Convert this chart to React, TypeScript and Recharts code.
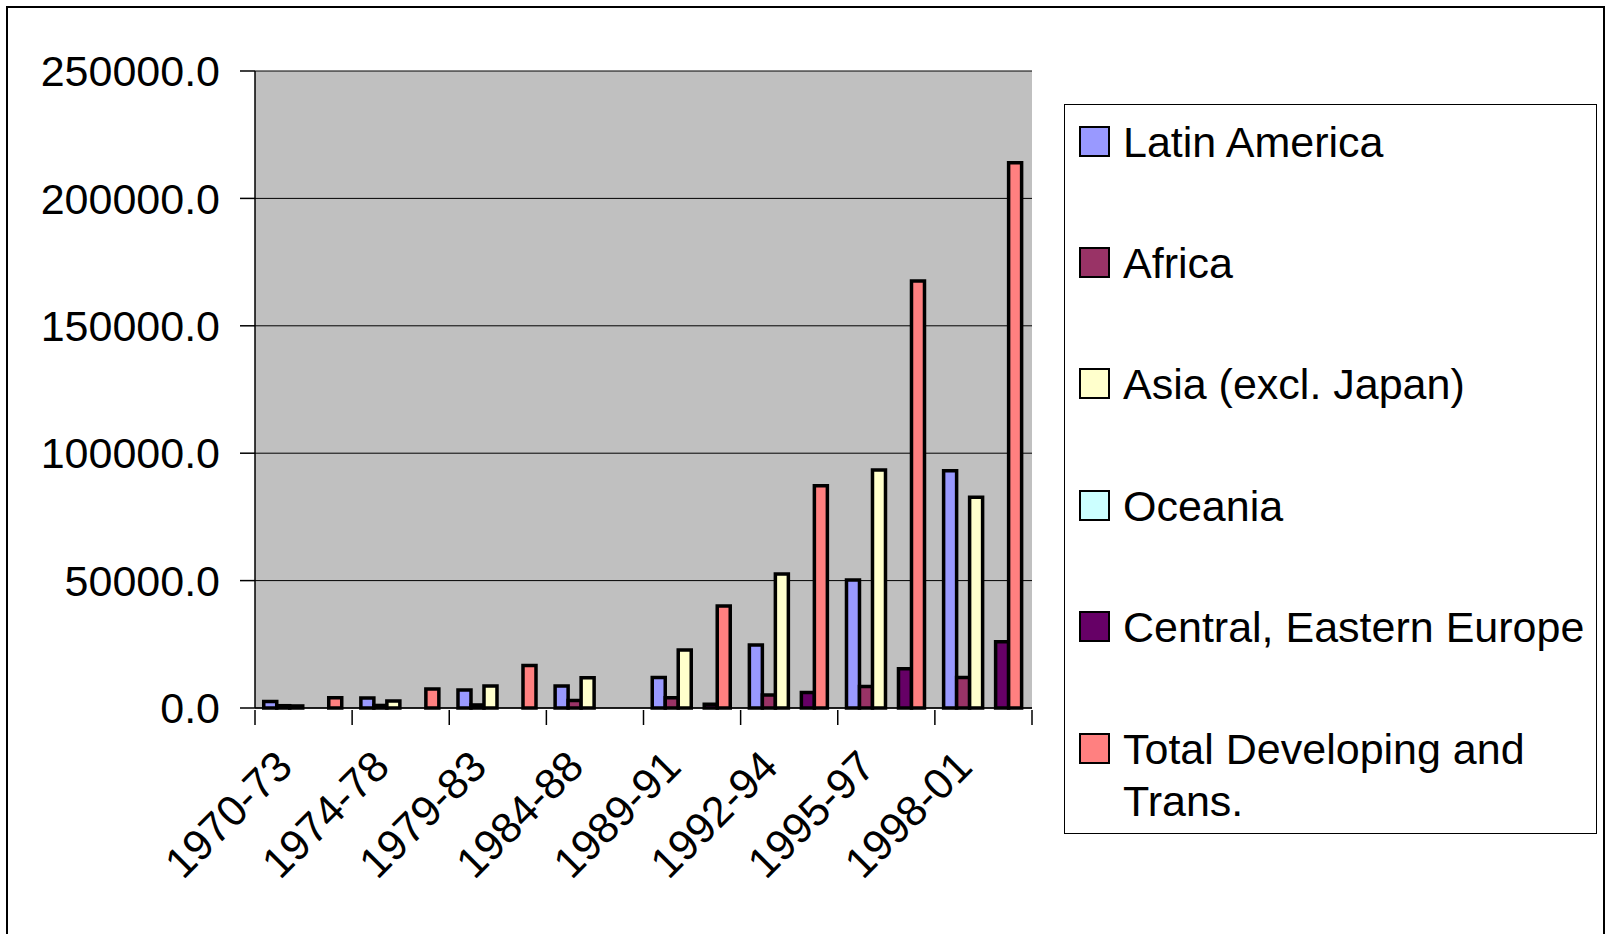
import React from "react";
import { BarChart, Bar, XAxis, YAxis, CartesianGrid } from "recharts";

const PERIODS = ["1970-73", "1974-78", "1979-83", "1984-88", "1989-91", "1992-94", "1995-97", "1998-01"];
const LATIN_AMERICA = [2600, 3900, 7100, 8600, 12000, 24700, 50200, 93100];
const AFRICA = [900, 1000, 1200, 2900, 4000, 5100, 8400, 12000];
const ASIA = [800, 2700, 8600, 11900, 22800, 52600, 93400, 82700];
const OCEANIA = [null, null, null, null, null, null, null, null];
const CENTRAL_EASTERN_EUROPE = [null, null, null, null, 1500, 6100, 15400, 26000];
const TOTAL = [4000, 7500, 16700, null, 40000, 87200, 167600, 214000];
const Y_TICKS = [0, 50000, 100000, 150000, 200000, 250000];

const SERIES = [
  { key: "la", name: "Latin America", color: "#9999FF", values: LATIN_AMERICA },
  { key: "af", name: "Africa", color: "#993366", values: AFRICA },
  { key: "as", name: "Asia (excl. Japan)", color: "#FFFFCC", values: ASIA },
  { key: "oc", name: "Oceania", color: "#CCFFFF", values: OCEANIA },
  { key: "ce", name: "Central, Eastern Europe", color: "#660066", values: CENTRAL_EASTERN_EUROPE },
  { key: "to", name: "Total Developing and Trans.", color: "#FF8080", values: TOTAL },
];

const data = PERIODS.map((p, i) => {
  const row: any = { period: p };
  SERIES.forEach((s) => (row[s.key] = s.values[i]));
  return row;
});

const FONT = '"Liberation Sans", Arial, sans-serif';
const FONT_SIZE = 43;

function PeriodTick(props: any) {
  const { x, y, payload, index, visibleTicksCount } = props;
  const half = payload.offset ?? 48.5;
  const last = index === (visibleTicksCount ?? PERIODS.length) - 1;
  const ax = x - 9;
  const ay = y + 59;
  return (
    <g>
      <line x1={x - half} x2={x - half} y1={y} y2={y + 15} stroke="#000" strokeWidth={1.5} />
      {last && <line x1={x + half} x2={x + half} y1={y} y2={y + 15} stroke="#000" strokeWidth={1.5} />}
      <text
        x={ax}
        y={ay}
        transform={`rotate(-45, ${ax}, ${ay})`}
        textAnchor="end"
        fontSize={FONT_SIZE}
        fontFamily={FONT}
        fill="#000"
      >
        {payload.value}
      </text>
    </g>
  );
}

function LegendBox() {
  return (
    <div style={{ position: "absolute", left: 1064, top: 104, width: 531, height: 728, border: "1px solid #000", background: "#fff", fontFamily: FONT, fontSize: FONT_SIZE, color: "#000" }}>
      {SERIES.map((s, i) => (
        <div key={s.key} style={{ position: "absolute", left: 14, top: 36.5 + i * 121.4 - 26, display: "flex", alignItems: "flex-start" }}>
          <div style={{ width: 27, height: 27, background: s.color, border: "2px solid #000", marginTop: 10, flex: "none" }} />
          <div style={{ marginLeft: 13, lineHeight: "52px", width: s.key === "to" ? 450 : 510, whiteSpace: s.key === "to" ? "normal" : "nowrap" }}>{s.name}</div>
        </div>
      ))}
    </div>
  );
}

export default function App() {
  return (
    <div style={{ position: "absolute", left: 0, top: 0, width: 1608, height: 934, background: "#fff", overflow: "hidden" }}>
      <div style={{ position: "absolute", left: 6, top: 6, width: 1595, height: 960, border: "2px solid #000" }} />
      <BarChart
        width={1608}
        height={934}
        data={data}
        margin={{ top: 71, right: 576, left: 0, bottom: 0 }}
        barCategoryGap="9%"
        barGap={0}
        style={{ position: "absolute", left: 0, top: 0 }}
      >
        <CartesianGrid vertical={false} stroke="#000" strokeWidth={1} fill="#C0C0C0" fillOpacity={1} />
        <XAxis
          dataKey="period"
          height={226}
          interval={0}
          tickSize={0}
          tickLine={false}
          axisLine={{ stroke: "#000", strokeWidth: 1.5 }}
          tick={<PeriodTick />}
        />
        <YAxis
          width={255}
          domain={[0, 250000]}
          ticks={Y_TICKS}
          tickFormatter={(v: number) => v.toFixed(1)}
          tickSize={15}
          tickMargin={20}
          axisLine={{ stroke: "#000", strokeWidth: 1.5 }}
          tickLine={{ stroke: "#000", strokeWidth: 1.5 }}
          tick={{ fontSize: FONT_SIZE, fontFamily: FONT, fill: "#000" }}
        />
        <YAxis
          yAxisId="frame"
          orientation="right"
          width={0}
          domain={[0, 250000]}
          tick={false}
          tickLine={false}
          axisLine={{ stroke: "#808080", strokeWidth: 2 }}
        />
        {SERIES.map((s) => (
          <Bar
            key={s.key}
            dataKey={s.key}
            name={s.name}
            fill={s.color}
            stroke="#000"
            strokeWidth={3.5}
            isAnimationActive={false}
          />
        ))}
      </BarChart>
      <LegendBox />
    </div>
  );
}
